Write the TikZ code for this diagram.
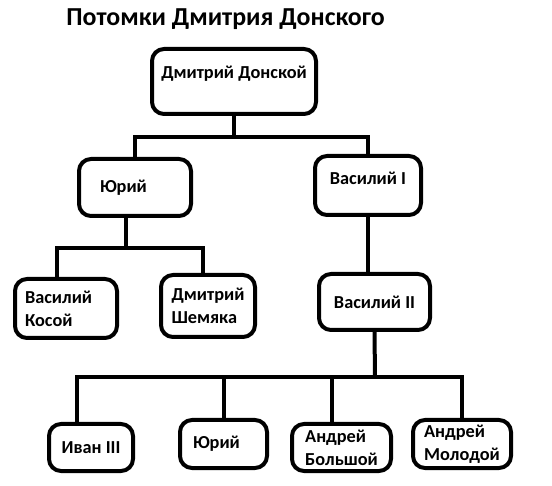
\documentclass[tikz,border=0pt]{standalone}
\usepackage{fontspec}
\setmainfont{Carlito}
\usepackage{tikz}

\begin{document}
\begin{tikzpicture}[x=1pt,y=-1pt,
  person/.style={draw,line width=4pt,rounded corners=12pt,align=left,
    font=\bfseries\fontsize{18.3}{23}\selectfont},
  link/.style={line width=4pt}]
\useasboundingbox (0,0) rectangle (552,486);
\node[anchor=base,font=\bfseries\fontsize{25.9}{30}\selectfont] (title) at (225.5,26) {Потомки Дмитрия Донского};

\node[person,minimum width=164,minimum height=65,text height=14,text depth=19] (dmitry) at (234,81.5) {Дмитрий Донской};
\node[person,minimum height=57,text width=70,inner xsep=21] (yuri) at (135,187.5) {Юрий};
\node[person,minimum width=106,minimum height=59,text height=14,text depth=15] (vasilyI) at (368,185.5) {Василий I};
\node[person,minimum height=59,text width=82,inner xsep=10] (kosoy) at (66,308.5) {Василий\\Косой};
\node[person,minimum width=94,minimum height=62] (shemyaka) at (208,306) {Дмитрий\\Шемяка};
\node[person,minimum width=111,minimum height=56] (vasilyII) at (374.5,302) {Василий II};
\node[person,minimum width=84,minimum height=47] (ivan) at (91,447.5) {Иван III};
\node[person,minimum height=48,text width=61,inner xsep=13] (yuriB) at (223.5,444) {Юрий};
\node[person,minimum width=99,minimum height=47] (bolshoy) at (341.5,447.5) {Андрей\\Большой};
\node[person,minimum width=98,minimum height=48] (molodoy) at (462,444) {Андрей\\Молодой};

\coordinate (busA) at (234,137);
\coordinate (busB) at (126,248);
\coordinate (busC) at (375,377);

\draw[link] (dmitry.south) -- (busA);
\draw[link] (yuri.north) |- (busA) -| (vasilyI.north);
\draw[link] (yuri.south -| busB) -- (busB);
\draw[link] ([xshift=-9pt]kosoy.north) |- (busB) -| ([xshift=-5pt]shemyaka.north);
\draw[link] (vasilyI.south) -- (vasilyI.south |- vasilyII.north);
\draw[link] (vasilyII.south) -- (busC);
\draw[link] ([xshift=-14pt]ivan.north) |- (busC) -| (molodoy.north);
\draw[link] (yuriB.north) |- (busC);
\draw[link] ([xshift=-9.5pt]bolshoy.north) |- (busC);
\end{tikzpicture}
\end{document}
